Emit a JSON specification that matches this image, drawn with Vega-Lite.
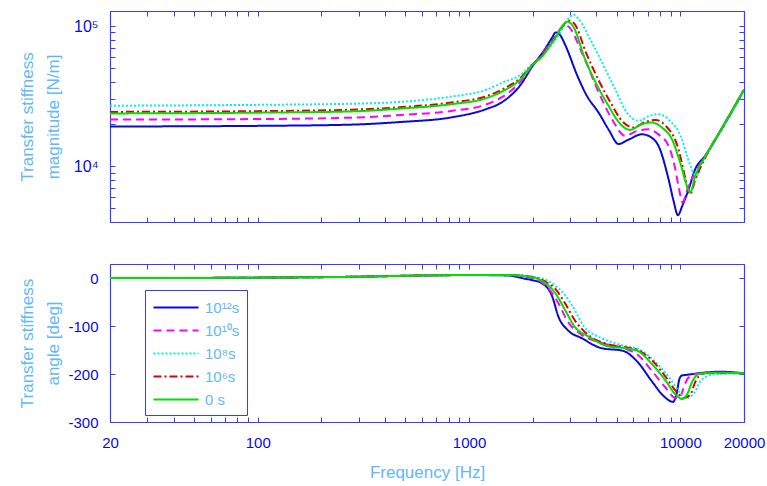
{
  "$schema": "https://vega.github.io/schema/vega-lite/v6.json",
  "background": "white",
  "padding": {"left": 17, "top": 10, "right": 5, "bottom": 5},
  "spacing": 33,
  "config": {
    "font": "Liberation Sans",
    "view": {"stroke": null},
    "axis": {
      "domainColor": "#3c3cff",
      "tickColor": "#3c3cff",
      "domainWidth": 1.2,
      "tickWidth": 1,
      "tickSize": -5,
      "labelColor": "#0a0ae6",
      "labelFontSize": 15,
      "labelPadding": 17,
      "labelOverlap": false,
      "labelFlush": false,
      "grid": false,
      "titleColor": "#62b8f8",
      "titleFontSize": 17,
      "titleFontWeight": "normal",
      "titleLineHeight": 26
    }
  },
  "datasets": {
    "mag": [
      {"s": "10¹²s", "f": 20, "v": 19200}, {"s": "10¹²s", "f": 100, "v": 19400}, {"s": "10¹²s", "f": 277, "v": 19800}, {"s": "10¹²s", "f": 480, "v": 20700}, {"s": "10¹²s", "f": 826, "v": 22300}, {"s": "10¹²s", "f": 1200, "v": 25500}, {"s": "10¹²s", "f": 1425, "v": 28500}, {"s": "10¹²s", "f": 1774, "v": 39000}, {"s": "10¹²s", "f": 1978, "v": 50700}, {"s": "10¹²s", "f": 2288, "v": 68500}, {"s": "10¹²s", "f": 2476, "v": 83000}, {"s": "10¹²s", "f": 2570, "v": 90100}, {"s": "10¹²s", "f": 2700, "v": 86000}, {"s": "10¹²s", "f": 2863, "v": 72300}, {"s": "10¹²s", "f": 3256, "v": 44100}, {"s": "10¹²s", "f": 3600, "v": 32000}, {"s": "10¹²s", "f": 4096, "v": 24200}, {"s": "10¹²s", "f": 4600, "v": 18000}, {"s": "10¹²s", "f": 5096, "v": 14400}, {"s": "10¹²s", "f": 5700, "v": 15500}, {"s": "10¹²s", "f": 6572, "v": 16900}, {"s": "10¹²s", "f": 7300, "v": 16000}, {"s": "10¹²s", "f": 7881, "v": 13960}, {"s": "10¹²s", "f": 8793, "v": 8070}, {"s": "10¹²s", "f": 9300, "v": 5600}, {"s": "10¹²s", "f": 9733, "v": 4470}, {"s": "10¹²s", "f": 10200, "v": 5200}, {"s": "10¹²s", "f": 10940, "v": 6850}, {"s": "10¹²s", "f": 11756, "v": 9520}, {"s": "10¹²s", "f": 13110, "v": 11860}, {"s": "10¹²s", "f": 16300, "v": 20500}, {"s": "10¹²s", "f": 20000, "v": 35100},
      {"s": "10¹⁰s", "f": 20, "v": 21500}, {"s": "10¹⁰s", "f": 100, "v": 21700}, {"s": "10¹⁰s", "f": 277, "v": 22200}, {"s": "10¹⁰s", "f": 480, "v": 23200}, {"s": "10¹⁰s", "f": 826, "v": 24800}, {"s": "10¹⁰s", "f": 1200, "v": 27500}, {"s": "10¹⁰s", "f": 1425, "v": 30950}, {"s": "10¹⁰s", "f": 1774, "v": 41000}, {"s": "10¹⁰s", "f": 1978, "v": 51500}, {"s": "10¹⁰s", "f": 2200, "v": 62000}, {"s": "10¹⁰s", "f": 2500, "v": 80000}, {"s": "10¹⁰s", "f": 2846, "v": 102000}, {"s": "10¹⁰s", "f": 3000, "v": 97000}, {"s": "10¹⁰s", "f": 3414, "v": 64900}, {"s": "10¹⁰s", "f": 4246, "v": 30100}, {"s": "10¹⁰s", "f": 4800, "v": 21000}, {"s": "10¹⁰s", "f": 5476, "v": 16470}, {"s": "10¹⁰s", "f": 6200, "v": 17800}, {"s": "10¹⁰s", "f": 7068, "v": 18360}, {"s": "10¹⁰s", "f": 7900, "v": 16800}, {"s": "10¹⁰s", "f": 8793, "v": 13960}, {"s": "10¹⁰s", "f": 9400, "v": 10000}, {"s": "10¹⁰s", "f": 9800, "v": 7230}, {"s": "10¹⁰s", "f": 10240, "v": 5510}, {"s": "10¹⁰s", "f": 10700, "v": 6600}, {"s": "10¹⁰s", "f": 11756, "v": 9020}, {"s": "10¹⁰s", "f": 13110, "v": 11860}, {"s": "10¹⁰s", "f": 16300, "v": 20500}, {"s": "10¹⁰s", "f": 20000, "v": 35100},
      {"s": "10⁸s", "f": 20, "v": 27000}, {"s": "10⁸s", "f": 100, "v": 27400}, {"s": "10⁸s", "f": 277, "v": 27900}, {"s": "10⁸s", "f": 480, "v": 28800}, {"s": "10⁸s", "f": 826, "v": 31400}, {"s": "10⁸s", "f": 1200, "v": 35000}, {"s": "10⁸s", "f": 1425, "v": 39200}, {"s": "10⁸s", "f": 1774, "v": 45500}, {"s": "10⁸s", "f": 1978, "v": 53000}, {"s": "10⁸s", "f": 2200, "v": 60000}, {"s": "10⁸s", "f": 2600, "v": 82000}, {"s": "10⁸s", "f": 3120, "v": 120400}, {"s": "10⁸s", "f": 3300, "v": 112000}, {"s": "10⁸s", "f": 3808, "v": 76500}, {"s": "10⁸s", "f": 4910, "v": 35500}, {"s": "10⁸s", "f": 5600, "v": 24000}, {"s": "10⁸s", "f": 6336, "v": 21060}, {"s": "10⁸s", "f": 7100, "v": 22800}, {"s": "10⁸s", "f": 7881, "v": 23500}, {"s": "10⁸s", "f": 8800, "v": 21500}, {"s": "10⁸s", "f": 10170, "v": 15600}, {"s": "10⁸s", "f": 10740, "v": 11900}, {"s": "10⁸s", "f": 11970, "v": 8530}, {"s": "10⁸s", "f": 12600, "v": 10500}, {"s": "10⁸s", "f": 13600, "v": 12800}, {"s": "10⁸s", "f": 16300, "v": 20000}, {"s": "10⁸s", "f": 20000, "v": 34500},
      {"s": "10⁶s", "f": 20, "v": 24400}, {"s": "10⁶s", "f": 100, "v": 24700}, {"s": "10⁶s", "f": 277, "v": 25300}, {"s": "10⁶s", "f": 480, "v": 26400}, {"s": "10⁶s", "f": 826, "v": 28500}, {"s": "10⁶s", "f": 1200, "v": 31500}, {"s": "10⁶s", "f": 1425, "v": 35100}, {"s": "10⁶s", "f": 1774, "v": 43500}, {"s": "10⁶s", "f": 1978, "v": 52500}, {"s": "10⁶s", "f": 2200, "v": 61000}, {"s": "10⁶s", "f": 2500, "v": 79000}, {"s": "10⁶s", "f": 2986, "v": 109100}, {"s": "10⁶s", "f": 3150, "v": 104000}, {"s": "10⁶s", "f": 3600, "v": 63000}, {"s": "10⁶s", "f": 4700, "v": 28000}, {"s": "10⁶s", "f": 5300, "v": 21000}, {"s": "10⁶s", "f": 6000, "v": 18900}, {"s": "10⁶s", "f": 6800, "v": 20600}, {"s": "10⁶s", "f": 7600, "v": 21400}, {"s": "10⁶s", "f": 8500, "v": 19500}, {"s": "10⁶s", "f": 9800, "v": 13200}, {"s": "10⁶s", "f": 10600, "v": 8000}, {"s": "10⁶s", "f": 11130, "v": 6300}, {"s": "10⁶s", "f": 11756, "v": 8000}, {"s": "10⁶s", "f": 13110, "v": 11500}, {"s": "10⁶s", "f": 16300, "v": 20300}, {"s": "10⁶s", "f": 20000, "v": 35100},
      {"s": "0 s", "f": 20, "v": 23800}, {"s": "0 s", "f": 100, "v": 24100}, {"s": "0 s", "f": 277, "v": 24600}, {"s": "0 s", "f": 480, "v": 25800}, {"s": "0 s", "f": 826, "v": 27700}, {"s": "0 s", "f": 1200, "v": 30500}, {"s": "0 s", "f": 1425, "v": 33950}, {"s": "0 s", "f": 1774, "v": 42500}, {"s": "0 s", "f": 1978, "v": 52000}, {"s": "0 s", "f": 2200, "v": 60000}, {"s": "0 s", "f": 2500, "v": 78000}, {"s": "0 s", "f": 2930, "v": 107300}, {"s": "0 s", "f": 3100, "v": 100000}, {"s": "0 s", "f": 3540, "v": 58100}, {"s": "0 s", "f": 4568, "v": 27000}, {"s": "0 s", "f": 5200, "v": 20000}, {"s": "0 s", "f": 5780, "v": 18160}, {"s": "0 s", "f": 6500, "v": 19800}, {"s": "0 s", "f": 7328, "v": 20500}, {"s": "0 s", "f": 8200, "v": 18800}, {"s": "0 s", "f": 9120, "v": 15600}, {"s": "0 s", "f": 10000, "v": 10500}, {"s": "0 s", "f": 10740, "v": 7230}, {"s": "0 s", "f": 11130, "v": 6490}, {"s": "0 s", "f": 11756, "v": 8500}, {"s": "0 s", "f": 13110, "v": 11700}, {"s": "0 s", "f": 16300, "v": 20500}, {"s": "0 s", "f": 20000, "v": 35100}
    ],
    "phase": [
      {"s": "10¹²s", "f": 20, "v": 0.5}, {"s": "10¹²s", "f": 100, "v": 1.5}, {"s": "10¹²s", "f": 300, "v": 3.5}, {"s": "10¹²s", "f": 600, "v": 6}, {"s": "10¹²s", "f": 1000, "v": 7}, {"s": "10¹²s", "f": 1534, "v": 6}, {"s": "10¹²s", "f": 1800, "v": 0}, {"s": "10¹²s", "f": 2000, "v": -4}, {"s": "10¹²s", "f": 2208, "v": -10}, {"s": "10¹²s", "f": 2476, "v": -38}, {"s": "10¹²s", "f": 2648, "v": -80}, {"s": "10¹²s", "f": 2930, "v": -108}, {"s": "10¹²s", "f": 3414, "v": -125}, {"s": "10¹²s", "f": 4246, "v": -146}, {"s": "10¹²s", "f": 5320, "v": -151}, {"s": "10¹²s", "f": 6260, "v": -174}, {"s": "10¹²s", "f": 7328, "v": -215}, {"s": "10¹²s", "f": 8300, "v": -245}, {"s": "10¹²s", "f": 9240, "v": -258}, {"s": "10¹²s", "f": 9600, "v": -240}, {"s": "10¹²s", "f": 9900, "v": -210}, {"s": "10¹²s", "f": 10170, "v": -203}, {"s": "10¹²s", "f": 10940, "v": -201}, {"s": "10¹²s", "f": 13600, "v": -196}, {"s": "10¹²s", "f": 15230, "v": -195}, {"s": "10¹²s", "f": 20000, "v": -198},
      {"s": "10¹⁰s", "f": 20, "v": 0.5}, {"s": "10¹⁰s", "f": 100, "v": 1.5}, {"s": "10¹⁰s", "f": 300, "v": 3.5}, {"s": "10¹⁰s", "f": 600, "v": 6}, {"s": "10¹⁰s", "f": 1000, "v": 7}, {"s": "10¹⁰s", "f": 1534, "v": 7}, {"s": "10¹⁰s", "f": 2000, "v": 0}, {"s": "10¹⁰s", "f": 2200, "v": -8}, {"s": "10¹⁰s", "f": 2374, "v": -21}, {"s": "10¹⁰s", "f": 2648, "v": -52}, {"s": "10¹⁰s", "f": 2930, "v": -90}, {"s": "10¹⁰s", "f": 3414, "v": -118}, {"s": "10¹⁰s", "f": 4246, "v": -135}, {"s": "10¹⁰s", "f": 5500, "v": -147}, {"s": "10¹⁰s", "f": 6300, "v": -160}, {"s": "10¹⁰s", "f": 7300, "v": -192}, {"s": "10¹⁰s", "f": 8500, "v": -228}, {"s": "10¹⁰s", "f": 9500, "v": -250}, {"s": "10¹⁰s", "f": 9900, "v": -250}, {"s": "10¹⁰s", "f": 10300, "v": -232}, {"s": "10¹⁰s", "f": 10800, "v": -210}, {"s": "10¹⁰s", "f": 11500, "v": -201}, {"s": "10¹⁰s", "f": 13000, "v": -198}, {"s": "10¹⁰s", "f": 20000, "v": -198},
      {"s": "10⁸s", "f": 20, "v": 0.5}, {"s": "10⁸s", "f": 100, "v": 1.5}, {"s": "10⁸s", "f": 300, "v": 3.5}, {"s": "10⁸s", "f": 600, "v": 6}, {"s": "10⁸s", "f": 1000, "v": 7}, {"s": "10⁸s", "f": 1534, "v": 7}, {"s": "10⁸s", "f": 2200, "v": 0}, {"s": "10⁸s", "f": 2500, "v": -12}, {"s": "10⁸s", "f": 2846, "v": -35}, {"s": "10⁸s", "f": 3160, "v": -66}, {"s": "10⁸s", "f": 3500, "v": -101}, {"s": "10⁸s", "f": 4246, "v": -125}, {"s": "10⁸s", "f": 5320, "v": -140}, {"s": "10⁸s", "f": 6336, "v": -148}, {"s": "10⁸s", "f": 7000, "v": -160}, {"s": "10⁸s", "f": 7600, "v": -174}, {"s": "10⁸s", "f": 9120, "v": -215}, {"s": "10⁸s", "f": 10000, "v": -240}, {"s": "10⁸s", "f": 10740, "v": -250}, {"s": "10⁸s", "f": 11300, "v": -245}, {"s": "10⁸s", "f": 11756, "v": -236}, {"s": "10⁸s", "f": 12570, "v": -212}, {"s": "10⁸s", "f": 14700, "v": -200}, {"s": "10⁸s", "f": 20000, "v": -198},
      {"s": "10⁶s", "f": 20, "v": 0.5}, {"s": "10⁶s", "f": 100, "v": 1.5}, {"s": "10⁶s", "f": 300, "v": 3.5}, {"s": "10⁶s", "f": 600, "v": 6}, {"s": "10⁶s", "f": 1000, "v": 7}, {"s": "10⁶s", "f": 1534, "v": 7}, {"s": "10⁶s", "f": 2000, "v": 3}, {"s": "10⁶s", "f": 2300, "v": -7}, {"s": "10⁶s", "f": 2560, "v": -22}, {"s": "10⁶s", "f": 2846, "v": -52}, {"s": "10⁶s", "f": 3160, "v": -87}, {"s": "10⁶s", "f": 3660, "v": -118}, {"s": "10⁶s", "f": 4568, "v": -138}, {"s": "10⁶s", "f": 5500, "v": -144}, {"s": "10⁶s", "f": 6300, "v": -150}, {"s": "10⁶s", "f": 7300, "v": -170}, {"s": "10⁶s", "f": 8500, "v": -205}, {"s": "10⁶s", "f": 9500, "v": -235}, {"s": "10⁶s", "f": 10400, "v": -250}, {"s": "10⁶s", "f": 11130, "v": -243}, {"s": "10⁶s", "f": 11800, "v": -215}, {"s": "10⁶s", "f": 12600, "v": -200}, {"s": "10⁶s", "f": 14000, "v": -197}, {"s": "10⁶s", "f": 20000, "v": -198},
      {"s": "0 s", "f": 20, "v": 0.5}, {"s": "0 s", "f": 100, "v": 1.5}, {"s": "0 s", "f": 300, "v": 3.5}, {"s": "0 s", "f": 600, "v": 6}, {"s": "0 s", "f": 1000, "v": 7}, {"s": "0 s", "f": 1534, "v": 7}, {"s": "0 s", "f": 2000, "v": 2}, {"s": "0 s", "f": 2300, "v": -10}, {"s": "0 s", "f": 2560, "v": -31}, {"s": "0 s", "f": 2846, "v": -66}, {"s": "0 s", "f": 3160, "v": -101}, {"s": "0 s", "f": 3660, "v": -121}, {"s": "0 s", "f": 4568, "v": -142}, {"s": "0 s", "f": 5500, "v": -146}, {"s": "0 s", "f": 6300, "v": -152}, {"s": "0 s", "f": 7300, "v": -178}, {"s": "0 s", "f": 8500, "v": -213}, {"s": "0 s", "f": 9500, "v": -243}, {"s": "0 s", "f": 10200, "v": -252}, {"s": "0 s", "f": 10740, "v": -243}, {"s": "0 s", "f": 11400, "v": -215}, {"s": "0 s", "f": 12200, "v": -200}, {"s": "0 s", "f": 14000, "v": -197}, {"s": "0 s", "f": 20000, "v": -198}
    ]
  },
  "resolve": {"legend": {"color": "independent", "strokeDash": "independent"}},
  "vconcat": [
    {
      "width": 634,
      "height": 211,
      "data": {"name": "mag"},
      "layer": [
        {
          "mark": {"type": "line", "strokeWidth": 2, "clip": true, "interpolate": "monotone"},
          "encoding": {
            "x": {"field": "f", "type": "quantitative", "scale": {"type": "log", "domain": [20, 20000]},
              "axis": {"orient": "bottom", "title": null, "labels": false, "values": [20,30,40,50,60,70,80,90,100,200,300,400,500,600,700,800,900,1000,2000,3000,4000,5000,6000,7000,8000,9000,10000,20000]}},
            "y": {"field": "v", "type": "quantitative", "scale": {"type": "log", "domain": [4000, 128000]},
              "axis": {"orient": "left", "title": ["Transfer stiffness", "magnitude [N/m]"], "titleX": -74, "titleBaseline": "bottom",
                "values": [4000,5000,6000,7000,8000,9000,10000,20000,30000,40000,50000,60000,70000,80000,90000,100000],
                "labelExpr": "datum.value == 10000 ? '10⁴' : (datum.value == 100000 ? '10⁵' : '')", "labelFontSize": 16}},
            "color": {"field": "s", "type": "nominal", "legend": null,
              "scale": {"domain": ["10¹²s", "10¹⁰s", "10⁸s", "10⁶s", "0 s"], "range": ["#0a0ad8", "#ff00ff", "#00f0f0", "#e00000", "#00e000"]}},
            "strokeDash": {"field": "s", "type": "nominal", "legend": null,
              "scale": {"domain": ["10¹²s", "10¹⁰s", "10⁸s", "10⁶s", "0 s"], "range": [[1, 0], [8, 5], [2, 2], [8, 3, 2, 3], [1, 0]]}}
          }
        },
        {
          "mark": {"type": "line", "opacity": 0},
          "encoding": {
            "x": {"field": "f", "type": "quantitative", "scale": {"type": "log", "domain": [20, 20000]},
              "axis": {"orient": "top", "title": null, "labels": false, "values": [20,30,40,50,60,70,80,90,100,200,300,400,500,600,700,800,900,1000,2000,3000,4000,5000,6000,7000,8000,9000,10000,20000]}},
            "y": {"field": "v", "type": "quantitative", "scale": {"type": "log", "domain": [4000, 128000]},
              "axis": {"orient": "right", "title": null, "labels": false, "values": [4000,5000,6000,7000,8000,9000,10000,20000,30000,40000,50000,60000,70000,80000,90000,100000]}}
          }
        }
      ],
      "resolve": {"axis": {"x": "independent", "y": "independent"}}
    },
    {
      "width": 634,
      "height": 158,
      "data": {"name": "phase"},
      "layer": [
        {
          "mark": {"type": "line", "strokeWidth": 2, "clip": true, "interpolate": "monotone"},
          "encoding": {
            "x": {"field": "f", "type": "quantitative", "scale": {"type": "log", "domain": [20, 20000]},
              "axis": {"orient": "bottom", "title": "Frequency [Hz]", "titleFontSize": 17, "titlePadding": 14, "labelPadding": 18,
                "values": [20,30,40,50,60,70,80,90,100,200,300,400,500,600,700,800,900,1000,2000,3000,4000,5000,6000,7000,8000,9000,10000,20000],
                "labelExpr": "(datum.value == 20 || datum.value == 100 || datum.value == 1000 || datum.value == 10000 || datum.value == 20000) ? format(datum.value, 'd') : ''"}},
            "y": {"field": "v", "type": "quantitative", "scale": {"domain": [-300, 30], "nice": false, "zero": false},
              "axis": {"orient": "left", "title": ["Transfer stiffness", "angle [deg]"], "titleX": -74, "titleBaseline": "bottom", "values": [-300, -200, -100, 0],
                "labelExpr": "datum.value == 0 ? '0' : '-' + format(-datum.value, 'd')"}},
            "color": {"field": "s", "type": "nominal",
              "scale": {"domain": ["10¹²s", "10¹⁰s", "10⁸s", "10⁶s", "0 s"], "range": ["#0a0ad8", "#ff00ff", "#00f0f0", "#e00000", "#00e000"]},
              "legend": {"orient": "none", "legendX": 35, "legendY": 26, "title": null, "symbolType": "M-1,0H4", "symbolSize": 324, "symbolStrokeWidth": 2.2,
                "labelColor": "#62b8f8", "labelFontSize": 15, "labelOffset": 32, "rowPadding": 4, "strokeColor": "#3c3cff", "padding": 7, "fillColor": "white"}},
            "strokeDash": {"field": "s", "type": "nominal",
              "scale": {"domain": ["10¹²s", "10¹⁰s", "10⁸s", "10⁶s", "0 s"], "range": [[1, 0], [8, 5], [2, 2], [8, 3, 2, 3], [1, 0]]},
              "legend": {"orient": "none", "legendX": 35, "legendY": 26, "title": null, "symbolType": "M-1,0H4", "symbolSize": 324, "symbolStrokeWidth": 2.2,
                "labelColor": "#62b8f8", "labelFontSize": 15, "labelOffset": 32, "rowPadding": 4, "strokeColor": "#3c3cff", "padding": 7, "fillColor": "white"}}
          }
        },
        {
          "mark": {"type": "line", "opacity": 0},
          "encoding": {
            "x": {"field": "f", "type": "quantitative", "scale": {"type": "log", "domain": [20, 20000]},
              "axis": {"orient": "top", "title": null, "labels": false, "values": [20,30,40,50,60,70,80,90,100,200,300,400,500,600,700,800,900,1000,2000,3000,4000,5000,6000,7000,8000,9000,10000,20000]}},
            "y": {"field": "v", "type": "quantitative", "scale": {"domain": [-300, 30], "nice": false, "zero": false},
              "axis": {"orient": "right", "title": null, "labels": false, "values": [-300, -200, -100, 0]}}
          }
        }
      ],
      "resolve": {"axis": {"x": "independent", "y": "independent"}}
    }
  ]
}
